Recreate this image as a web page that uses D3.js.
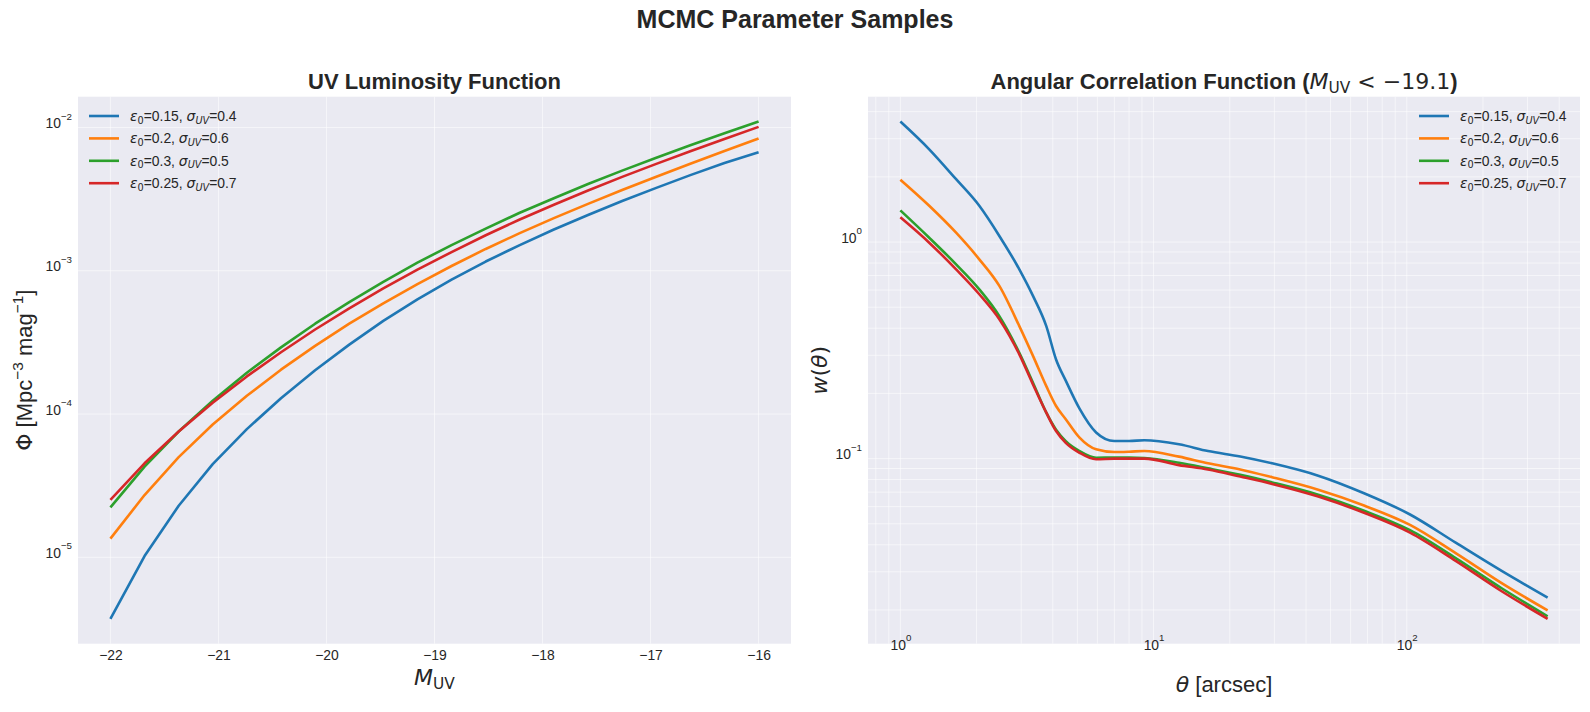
<!DOCTYPE html>
<html>
<head>
<meta charset="utf-8">
<script src="https://cdn.jsdelivr.net/npm/d3@7"></script>
<style>
  body { margin: 0; background: #ffffff; }
  text { font-family: "Liberation Sans", Arial, sans-serif; fill: #262626; }
</style>
</head>
<body>
<div id="chart"></div>
<script>
// ---- data ----
const eps0 = ["0.15", "0.2", "0.3", "0.25"];
const sigmaUV = ["0.4", "0.6", "0.5", "0.7"];
const seriesColors = ["#1f77b4", "#ff7f0e", "#2ca02c", "#d62728"];

// UV luminosity function
const magUV = [-22, -21.684, -21.368, -21.053, -20.737, -20.421, -20.105, -19.789, -19.474, -19.158,
               -18.842, -18.526, -18.211, -17.895, -17.579, -17.263, -16.947, -16.632, -16.316, -16];
const phiA = [3.72e-6, 1.02e-5, 2.29e-5, 4.47e-5, 7.85e-5, 1.29e-4, 2.02e-4, 3.05e-4, 4.47e-4, 6.31e-4,
              8.67e-4, 1.16e-3, 1.51e-3, 1.94e-3, 2.45e-3, 3.07e-3, 3.79e-3, 4.65e-3, 5.65e-3, 6.72e-3];
const phiB = [1.35e-5, 2.72e-5, 5.00e-5, 8.45e-5, 1.34e-4, 2.04e-4, 2.99e-4, 4.27e-4, 5.93e-4, 8.07e-4,
              1.08e-3, 1.42e-3, 1.83e-3, 2.33e-3, 2.93e-3, 3.66e-3, 4.53e-3, 5.58e-3, 6.85e-3, 8.39e-3];
const phiC = [2.23e-5, 4.30e-5, 7.55e-5, 1.24e-4, 1.94e-4, 2.92e-4, 4.27e-4, 6.05e-4, 8.38e-4, 1.14e-3,
              1.51e-3, 1.97e-3, 2.54e-3, 3.21e-3, 4.03e-3, 5.00e-3, 6.15e-3, 7.52e-3, 9.12e-3, 1.10e-2];
const phiD = [2.52e-5, 4.53e-5, 7.55e-5, 1.20e-4, 1.83e-4, 2.70e-4, 3.89e-4, 5.47e-4, 7.53e-4, 1.02e-3,
              1.35e-3, 1.77e-3, 2.28e-3, 2.89e-3, 3.63e-3, 4.52e-3, 5.57e-3, 6.82e-3, 8.32e-3, 1.01e-2];

// angular correlation function
const thetaArcsec = [1, 1.3, 1.66, 2.05, 2.46, 2.95, 3.34, 3.77, 4.12, 4.5, 5.1, 5.93, 7.0, 8.0, 9.2,
                     12.6, 16.4, 22, 29.4, 44.7, 67.8, 103, 156, 237, 360];
const wA = [3.60, 2.68, 1.95, 1.47, 1.067, 0.748, 0.564, 0.409, 0.287, 0.229, 0.170, 0.132, 0.1205, 0.1205, 0.1216,
            0.1164, 0.1084, 0.1023, 0.0951, 0.0834, 0.0692, 0.0552, 0.0409, 0.0303, 0.0228];
const wB = [1.94, 1.47, 1.104, 0.832, 0.627, 0.409, 0.298, 0.216, 0.175, 0.152, 0.125, 0.1104, 0.1072, 0.1076, 0.1084,
            0.1021, 0.0951, 0.0891, 0.0820, 0.0718, 0.0607, 0.0494, 0.0366, 0.0266, 0.0199];
const wC = [1.40, 1.047, 0.789, 0.605, 0.455, 0.308, 0.224, 0.163, 0.136, 0.1205, 0.1084, 0.1009, 0.1012, 0.1012, 0.1007,
            0.0957, 0.0902, 0.0841, 0.0776, 0.0681, 0.0574, 0.0467, 0.0347, 0.0252, 0.0187];
const wD = [1.30, 0.993, 0.748, 0.574, 0.440, 0.303, 0.220, 0.163, 0.134, 0.1183, 0.1064, 0.0993, 0.1000, 0.1000, 0.1000,
            0.0933, 0.0891, 0.0826, 0.0764, 0.0668, 0.0562, 0.0455, 0.0337, 0.0244, 0.0182];

const magTicks = [-22, -21, -20, -19, -18, -17, -16];
const phiTicks = [1e-5, 1e-4, 1e-3, 1e-2];
const thetaTicks = [1, 10, 100];
const wTicks = [0.1, 1];

// ---- layout ----
const W = 1590, H = 712;
const plotTop = 96.7, plotBottom = 643.7;
const tickSize = 13.9, legendSize = 13.9, labelSize = 22;

const svg = d3.select("#chart")
    .append("svg")
    .attr("width", W)
    .attr("height", H);

// matplotlib style 5% margins
function padLinear(ext) {
    const r = ext[1] - ext[0];
    return [ext[0] - 0.05 * r, ext[1] + 0.05 * r];
}
function padLog(ext) {
    const a = Math.log10(ext[0]), b = Math.log10(ext[1]), r = b - a;
    return [Math.pow(10, a - 0.05 * r), Math.pow(10, b + 0.05 * r)];
}

// text with sub/superscripts and mathtext pieces
function rich(sel, parts, size, supK = 0.6) {
    let cur = 0;
    parts.forEach(p => {
        const s = p.script ? size * 0.7 : size;
        const off = p.script === "sub" ? size * 0.2 : p.script === "sup" ? -size * supK : 0;
        sel.append("tspan")
            .attr("dy", off - cur)
            .style("font-size", s + "px")
            .style("font-family", p.math ? "'DejaVu Sans'" : null)
            .style("font-style", p.italic ? "italic" : null)
            .style("font-weight", p.weight || null)
            .text(p.t);
        cur = off;
    });
}

function powLabel(v) {
    const e = Math.round(Math.log10(v));
    return [{t: "10"}, {t: (e < 0 ? "\u2212" + (-e) : "" + e), script: "sup"}];
}

function legendParts(i) {
    return [
        {t: "\u03b5", math: true, italic: true},
        {t: "0", math: true, script: "sub"},
        {t: "=" + eps0[i] + ", "},
        {t: "\u03c3", math: true, italic: true},
        {t: "UV", math: true, italic: true, script: "sub"},
        {t: "=" + sigmaUV[i]}
    ];
}

function drawPanel(cfg) {
    const g = svg.append("g");
    g.append("rect")
        .attr("x", cfg.left).attr("y", plotTop)
        .attr("width", cfg.right - cfg.left).attr("height", plotBottom - plotTop)
        .attr("fill", "#eaeaf2");

    const x = cfg.x, y = cfg.y;

    // grid
    const grid = g.append("g").attr("stroke", "#ffffff").attr("stroke-opacity", 0.55);
    cfg.xGrid.forEach(v => {
        grid.append("line").attr("x1", x(v)).attr("x2", x(v))
            .attr("y1", plotTop).attr("y2", plotBottom).attr("stroke-width", 1);
    });
    cfg.yGrid.forEach(v => {
        grid.append("line").attr("y1", y(v)).attr("y2", y(v))
            .attr("x1", cfg.left).attr("x2", cfg.right).attr("stroke-width", 1);
    });

    // series
    const line = d3.line()
        .x((d, i) => x(cfg.xs[i]))
        .y(d => y(d))
        .curve(cfg.curve);
    cfg.series.forEach((s, i) => {
        g.append("path")
            .datum(s)
            .attr("fill", "none")
            .attr("stroke", seriesColors[i])
            .attr("stroke-width", 2.6)
            .attr("stroke-linejoin", "round")
            .attr("d", line);
    });

    // x axis
    const xAxis = g.append("g")
        .attr("transform", `translate(0, ${plotBottom})`)
        .call(d3.axisBottom(x).tickValues(cfg.xTicks).tickSize(0).tickPadding(6));
    xAxis.select(".domain").remove();
    xAxis.selectAll(".tick text").attr("font-size", null).style("font-size", tickSize + "px")
        .attr("font-family", null).attr("fill", "#262626");
    if (cfg.xLog) {
        xAxis.selectAll(".tick text").each(function (d) {
            const t = d3.select(this).text("").attr("dy", "1.22em");
            rich(t, powLabel(d), tickSize);
        });
    } else {
        xAxis.selectAll(".tick text").text(d => d < 0 ? "\u2212" + (-d) : d);
    }

    // y axis
    const yAxis = g.append("g")
        .attr("transform", `translate(${cfg.left}, 0)`)
        .call(d3.axisLeft(y).tickValues(cfg.yTicks).tickSize(0).tickPadding(6));
    yAxis.select(".domain").remove();
    yAxis.selectAll(".tick text").attr("font-family", null).attr("fill", "#262626")
        .each(function (d) {
            const t = d3.select(this).text("").attr("dy", "0.53em");
            rich(t, powLabel(d), tickSize);
        });

    // title
    const title = svg.append("text")
        .attr("x", (cfg.left + cfg.right) / 2).attr("y", 89)
        .attr("text-anchor", "middle")
        .style("font-weight", "bold");
    rich(title, cfg.title, 22);

    // axis labels
    const xl = svg.append("text")
        .attr("x", (cfg.left + cfg.right) / 2).attr("y", cfg.xLabelY)
        .attr("text-anchor", "middle");
    rich(xl, cfg.xLabel, labelSize);

    const yl = svg.append("text")
        .attr("transform", `translate(${cfg.yLabelX}, ${(plotTop + plotBottom) / 2}) rotate(-90)`)
        .attr("text-anchor", "middle");
    rich(yl, cfg.yLabel, labelSize, 0.38);

    // legend
    const leg = g.append("g");
    cfg.series.forEach((s, i) => {
        const ry = 116 + i * 22.4;
        leg.append("line")
            .attr("x1", cfg.legX).attr("x2", cfg.legX + 30)
            .attr("y1", ry).attr("y2", ry)
            .attr("stroke", seriesColors[i]).attr("stroke-width", 2.6);
        const t = leg.append("text")
            .attr("x", cfg.legX + 41).attr("y", ry + 4.8);
        rich(t, legendParts(i), legendSize);
    });
}

// left panel
const xLum = d3.scaleLinear().domain(padLinear(d3.extent(magUV))).range([78, 791]);
const allPhi = phiA.concat(phiB, phiC, phiD);
const yLum = d3.scaleLog().domain(padLog(d3.extent(allPhi))).range([plotBottom, plotTop]);

drawPanel({
    left: 78, right: 791, x: xLum, y: yLum,
    xs: magUV, series: [phiA, phiB, phiC, phiD], curve: d3.curveLinear,
    xTicks: magTicks, yTicks: phiTicks, xGrid: magTicks, yGrid: phiTicks,
    xLog: false,
    title: [{t: "UV Luminosity Function"}],
    xLabel: [{t: "M", math: true, italic: true}, {t: "UV", math: true, script: "sub"}],
    xLabelY: 685,
    yLabel: [{t: "\u03a6", math: true}, {t: " [Mpc"}, {t: "\u22123", script: "sup"},
             {t: " mag"}, {t: "\u22121", script: "sup"}, {t: "]"}],
    yLabelX: 31.5,
    legX: 89
});

// right panel
const xAng = d3.scaleLog().domain(padLog(d3.extent(thetaArcsec))).range([868, 1580]);
const allW = wA.concat(wB, wC, wD);
const yAng = d3.scaleLog().domain(padLog(d3.extent(allW))).range([plotBottom, plotTop]);

function logGrid(scale) {
    const d = scale.domain(), out = [];
    for (let e = Math.floor(Math.log10(d[0])); e <= Math.ceil(Math.log10(d[1])); e++) {
        for (let k = 1; k < 10; k++) {
            const v = k * Math.pow(10, e);
            if (v >= d[0] && v <= d[1]) out.push(v);
        }
    }
    return out;
}

drawPanel({
    left: 868, right: 1580, x: xAng, y: yAng,
    xs: thetaArcsec, series: [wA, wB, wC, wD], curve: d3.curveMonotoneX,
    xTicks: thetaTicks, yTicks: wTicks, xGrid: logGrid(xAng), yGrid: logGrid(yAng),
    xLog: true,
    title: [{t: "Angular Correlation Function ("},
            {t: "M", math: true, italic: true, weight: "normal"},
            {t: "UV", math: true, script: "sub", weight: "normal"},
            {t: " < \u221219.1", math: true, weight: "normal"},
            {t: ")"}],
    xLabel: [{t: "\u03b8", math: true, italic: true}, {t: " [arcsec]"}],
    xLabelY: 691.5,
    yLabel: [{t: "w", math: true, italic: true}, {t: "(", math: true},
             {t: "\u03b8", math: true, italic: true}, {t: ")", math: true}],
    yLabelX: 827,
    legX: 1419
});

// figure title
svg.append("text")
    .attr("x", W / 2).attr("y", 28)
    .attr("text-anchor", "middle")
    .style("font-size", "25px")
    .style("font-weight", "bold")
    .text("MCMC Parameter Samples");
</script>
</body>
</html>
